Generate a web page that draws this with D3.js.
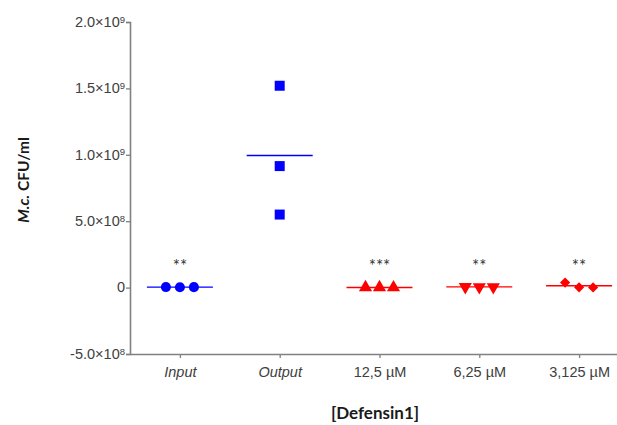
<!DOCTYPE html>
<html>
<head>
<meta charset="utf-8">
<script src="https://cdn.jsdelivr.net/npm/d3@7"></script>
<style>
  body { margin: 0; background: #fff; }
  svg { display: block; font-family: Lato, 'Open Sans', sans-serif; }
</style>
</head>
<body>
<div id="chart"></div>
<script>
// groups along the x axis
const groups = ['Input', 'Output', '12,5 µM', '6,25 µM', '3,125 µM'];
const italicGroups = ['Input', 'Output'];
// replicate values (CFU/ml) per group
const inputValues = [4.0e6, 3.0e6, 3.5e6];
const outputValues = [1.52e9, 0.915e9, 0.55e9];
const dose125Values = [1.0e6, 1.2e6, 0.8e6];
const dose625Values = [5.5e6, 5.0e6, 5.0e6];
const dose3125Values = [3.8e7, 2.0e6, 1.0e6];
const groupValues = [inputValues, outputValues, dose125Values, dose625Values, dose3125Values];
const significance = ['**', '', '***', '**', '**'];
// y ticks
const yTicks = [-5e8, 0, 5e8, 1e9, 1.5e9, 2e9];

const width = 617;
const height = 425;
const margin = {top: 22, left: 130, bottom: 71};
const plotBottom = height - margin.bottom;

const blue = '#0000ff';
const red = '#ff0000';
const groupColor = [blue, blue, red, red, red];
const groupSymbol = ['circle', 'square', 'up', 'down', 'diamond'];

const svg = d3.select('#chart')
  .append('svg')
  .attr('width', width)
  .attr('height', height);

const x = d3.scalePoint()
  .domain(groups)
  .range([margin.left, 629])
  .padding(0.5);

const y = d3.scaleLinear()
  .domain([-5e8, 2e9])
  .range([plotBottom, margin.top]);

// y axis
const yAxis = svg.append('g')
  .attr('transform', `translate(${margin.left},0)`)
  .call(d3.axisLeft(y).tickValues(yTicks).tickSize(4).tickFormat(''));
yAxis.select('.domain').attr('stroke', '#808080').attr('stroke-width', 1.6);
yAxis.selectAll('.tick line').attr('stroke', '#808080').attr('stroke-width', 1.3);

const yLab = yAxis.selectAll('.tick')
  .append('text')
  .attr('x', -5)
  .attr('dy', '0.3em')
  .attr('text-anchor', 'end')
  .attr('fill', '#404040')
  .style('font-size', '14.5px');
yLab.each(function(d) {
  const t = d3.select(this);
  if (d === 0) {
    t.text('0');
    return;
  }
  const exp = Math.floor(Math.log10(Math.abs(d)));
  const mant = d / Math.pow(10, exp);
  t.append('tspan').text(`${mant.toFixed(1)}\u00d710`);
  t.append('tspan').attr('dy', '-0.45em').style('font-size', '9.5px').text(exp);
});

// x axis
const xAxis = svg.append('g')
  .attr('transform', `translate(0,${plotBottom})`)
  .call(d3.axisBottom(x).tickSize(4).tickSizeOuter(0).tickFormat(''));
xAxis.select('.domain').attr('stroke', '#808080').attr('stroke-width', 1.6);
xAxis.selectAll('.tick line').attr('stroke', '#808080').attr('stroke-width', 1.3);
xAxis.selectAll('.tick')
  .append('text')
  .attr('y', 23)
  .attr('text-anchor', 'middle')
  .attr('fill', '#404040')
  .style('font-size', '14.5px')
  .style('font-style', (d)=> italicGroups.includes(d) ? 'italic' : 'normal')
  .text((d)=> d);

// axis titles
svg.append('text')
  .attr('x', 375)
  .attr('y', 419)
  .attr('text-anchor', 'middle')
  .attr('fill', '#1a1a1a')
  .style('font-size', '17px')
  .style('font-weight', 'bold')
  .text('[Defensin1]');

const yTitle = svg.append('text')
  .attr('transform', 'translate(29,180) rotate(-90)')
  .attr('text-anchor', 'middle')
  .attr('fill', '#1a1a1a')
  .style('font-size', '15.5px')
  .style('font-weight', 'bold');
yTitle.append('tspan').style('font-style', 'italic').text('M.c.');
yTitle.append('tspan').text(' CFU/ml');

// spread replicates that would overlap, like a column scatter
const spread = 14;
const markerSize = 10;
const offsetsFor = (vals)=> {
  const py = vals.map((v)=> y(v));
  const cluster = vals.map((v, i)=> i);
  vals.forEach((a, i)=> {
    vals.forEach((b, j)=> {
      if (j > i && Math.abs(py[i] - py[j]) < markerSize) {
        const c = cluster[j];
        cluster.forEach((k, idx)=> { if (k === c) cluster[idx] = cluster[i]; });
      }
    });
  });
  return vals.map((v, i)=> {
    const members = cluster.map((c, idx)=> c === cluster[i] ? idx : -1).filter((idx)=> idx >= 0);
    const pos = members.indexOf(i);
    return (pos - (members.length - 1) / 2) * spread;
  });
};

const symbolPath = {
  circle: d3.symbol().type(d3.symbolCircle).size(80)(),
  square: d3.symbol().type(d3.symbolSquare).size(100)(),
  up: d3.symbol().type(d3.symbolTriangle).size(75)(),
  down: d3.symbol().type(d3.symbolTriangle).size(75)(),
  diamond: d3.symbol().type(d3.symbolSquare).size(52)()
};
const symbolRotate = {circle: 0, square: 0, up: 0, down: 180, diamond: 45};

const plot = svg.append('g');

groups.forEach((g, gi)=> {
  const vals = groupValues[gi];
  const cx = x(g);
  const offs = offsetsFor(vals);
  const color = groupColor[gi];
  const sym = groupSymbol[gi];

  // mean line
  plot.append('line')
    .attr('x1', cx - 33)
    .attr('x2', cx + 33)
    .attr('y1', y(d3.mean(vals)))
    .attr('y2', y(d3.mean(vals)))
    .attr('stroke', color)
    .attr('stroke-width', 1.4);

  plot.selectAll(null)
    .data(vals)
    .enter()
    .append('path')
    .attr('d', symbolPath[sym])
    .attr('transform', (d, i)=> `translate(${cx + offs[i]},${y(d)}) rotate(${symbolRotate[sym]})`)
    .attr('fill', color);

  if (significance[gi]) {
    plot.append('text')
      .attr('x', cx)
      .attr('y', 272)
      .attr('text-anchor', 'middle')
      .attr('fill', '#333')
      .style('font-size', '17px')
      .text(significance[gi]);
  }
});
</script>
</body>
</html>
